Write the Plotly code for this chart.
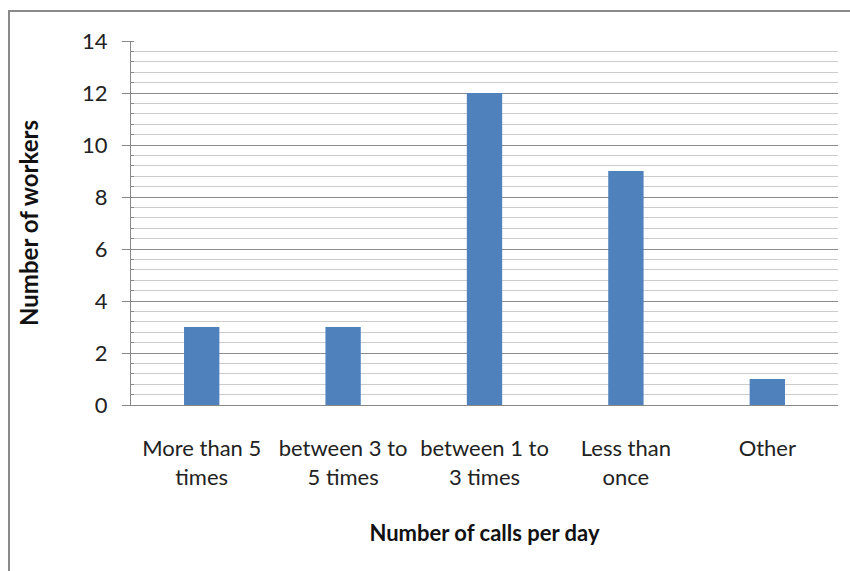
import plotly.graph_objects as go

categories = ["More than 5<br>times", "between 3 to<br>5 times", "between 1 to<br>3 times",
              "Less than<br>once", "Other"]
workers = [3, 3, 12, 9, 1]
y_ticks = [0, 2, 4, 6, 8, 10, 12, 14]

FONT = "Lato, 'Open Sans', sans-serif"

W, H = 850, 571
L, R, T, B = 131, 12, 41, 166
pw, ph = W - L - R, H - T - B

def px_to_paper_x(px):
    return (px - L) / pw

def px_to_paper_y(py):
    return (H - B - py) / ph

fig = go.Figure(go.Bar(
    x=categories, y=workers, width=0.25,
    marker=dict(color="#4F81BD", line=dict(width=0)),
))

fig.update_layout(
    width=W, height=H,
    margin=dict(l=L, r=R, t=T, b=B),
    paper_bgcolor="white", plot_bgcolor="white",
    showlegend=False,
    font=dict(family=FONT, color="#222222"),
    bargap=0.75,
    xaxis=dict(
        showline=True, linecolor="#888888", linewidth=1,
        ticks="", tickfont=dict(size=22, family=FONT, color="#222222"),
        ticklabelstandoff=24,
        showgrid=False,
        title=dict(text="<b>Number of calls per day</b>", font=dict(size=22, family=FONT, color="#111111"),
                   standoff=36),
    ),
    yaxis=dict(
        range=[0, 14], tickvals=y_ticks,
        showline=True, linecolor="#888888", linewidth=1,
        ticks="outside", ticklen=8, tickcolor="#888888",
        tickfont=dict(size=22, family=FONT, color="#222222"),
        ticklabelstandoff=10,
        showgrid=True, gridcolor="#8c8c8c", gridwidth=1,
        zeroline=False,
        minor=dict(dtick=0.4, showgrid=True, gridcolor="#cccccc", gridwidth=1,
                   ticks="inside", ticklen=3, tickcolor="#888888"),
        title=dict(text="<b>Number of workers</b>", font=dict(size=24, family=FONT, color="#111111"),
                   standoff=36),
    ),
    shapes=[dict(
        type="rect", xref="paper", yref="paper",
        x0=px_to_paper_x(9), x1=px_to_paper_x(870),
        y0=px_to_paper_y(590), y1=px_to_paper_y(11),
        line=dict(color="#8a8a8a", width=2), fillcolor="rgba(0,0,0,0)", layer="below",
    )],
)

fig.write_html("out.html")
